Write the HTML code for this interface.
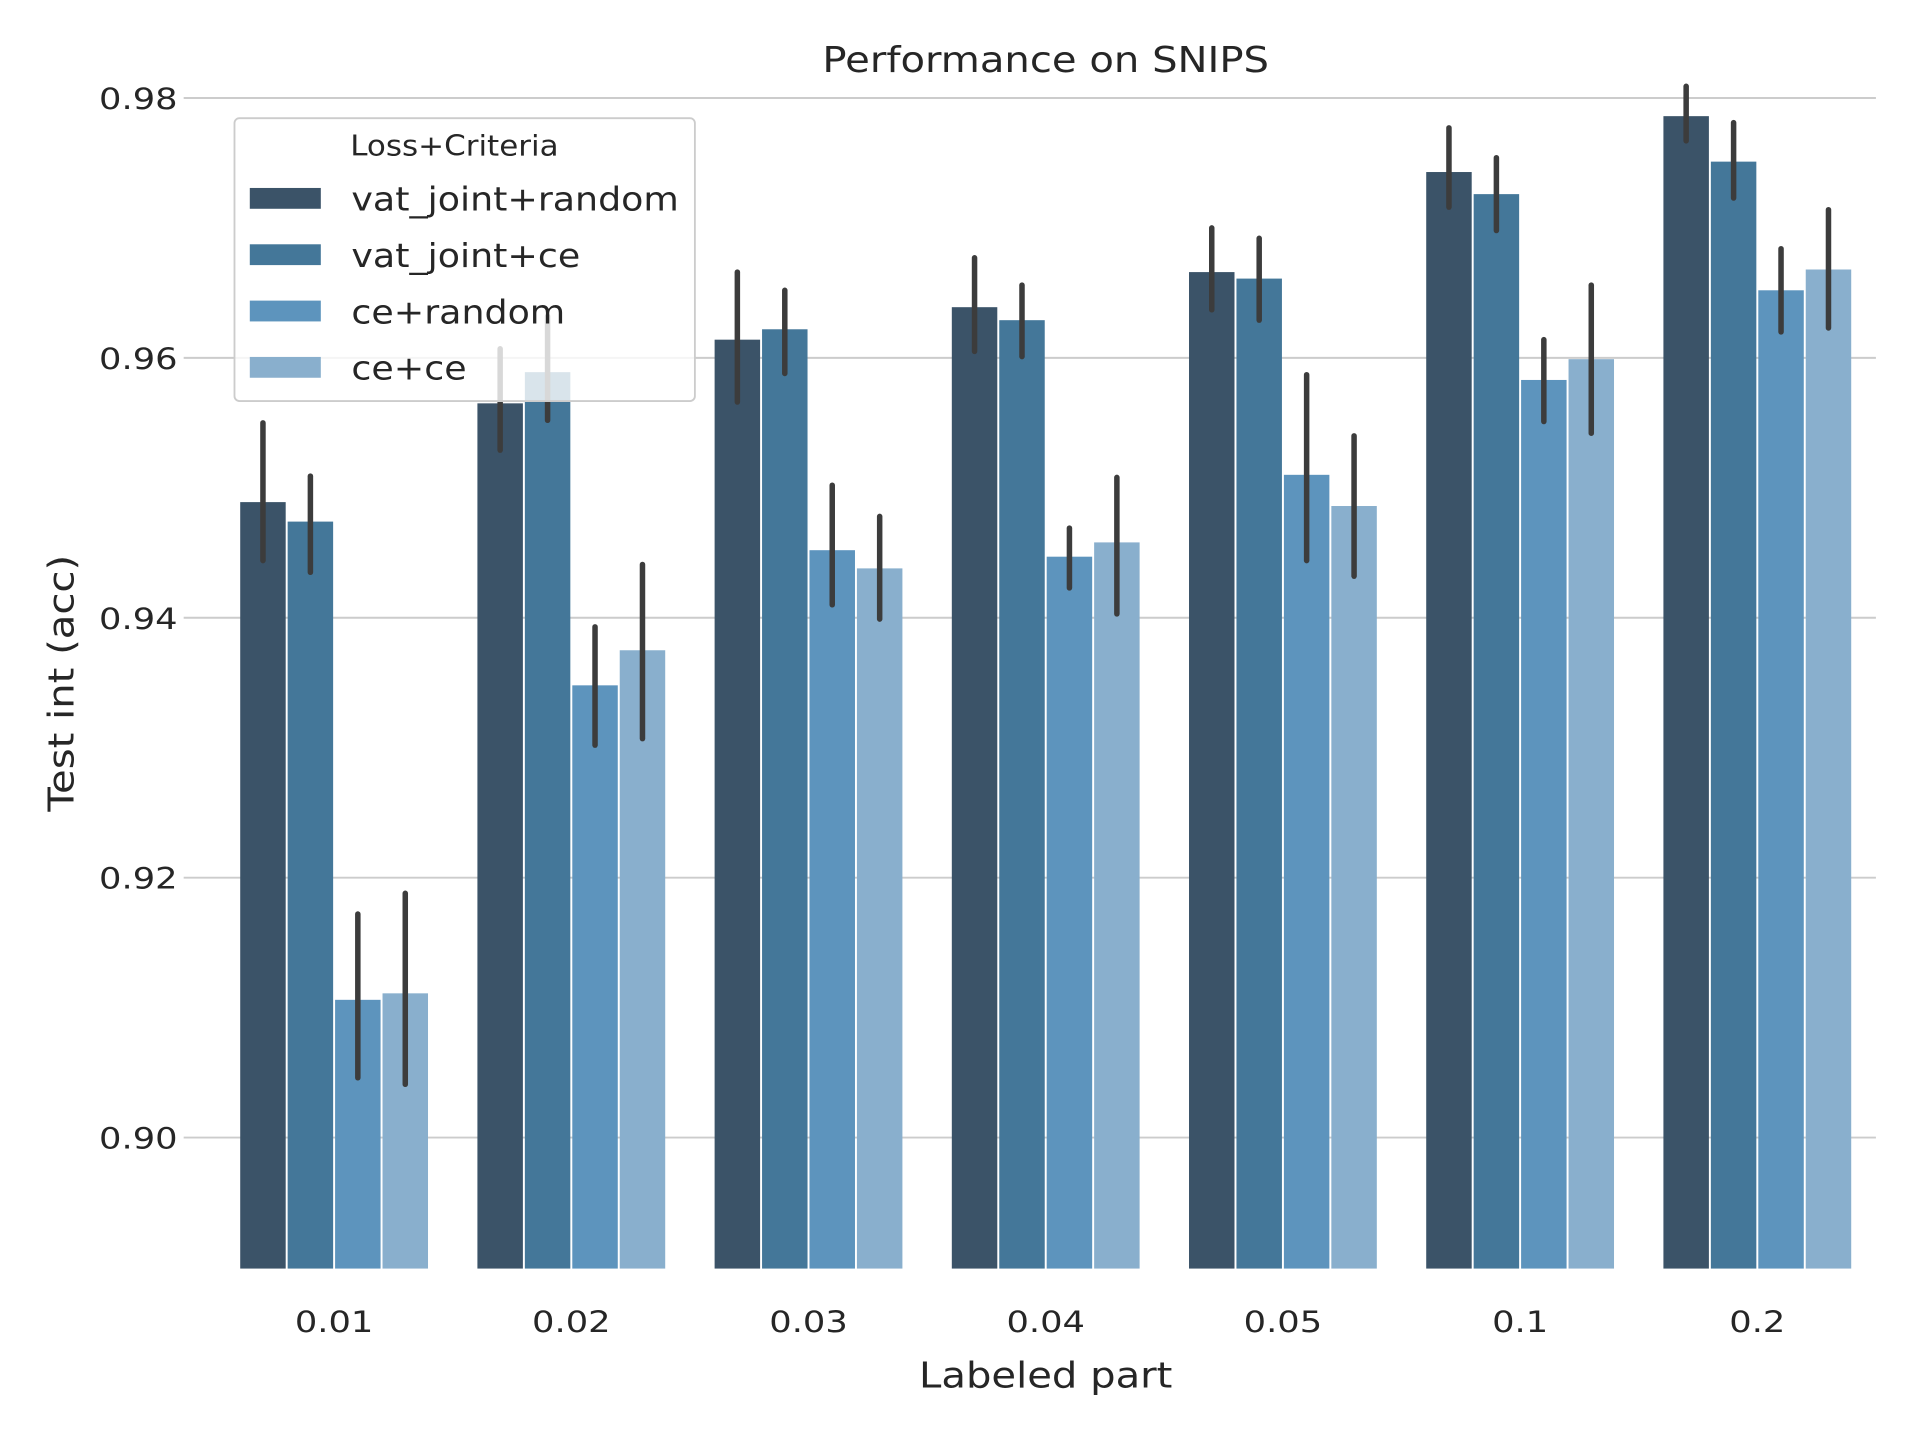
<!DOCTYPE html>
<html><head><meta charset="utf-8"><style>
html,body{margin:0;padding:0;background:#fff;}
svg{display:block;font-family:"DejaVu Sans","Liberation Sans",sans-serif;}
</style></head><body>
<svg id="chart" width="1920" height="1440" viewBox="0 0 1568 1176" preserveAspectRatio="none" xmlns="http://www.w3.org/2000/svg">
<g id="grid"></g>
<g id="bars"></g>
<g id="errs"></g>
<g id="yticks"></g>
<g id="xticks"></g>
<text id="ttl" x="854" y="59" text-anchor="middle" font-size="29" fill="#262626">Performance on SNIPS</text>
<text id="xlab" x="854" y="1133" text-anchor="middle" font-size="29" fill="#262626">Labeled part</text>
<text id="ylab" x="0" y="0" transform="translate(60,558) rotate(-90)" text-anchor="middle" font-size="29" fill="#262626">Test int (acc)</text>
<g id="legend"></g>
</svg>
<script>
const categories = ["0.01","0.02","0.03","0.04","0.05","0.1","0.2"];
const seriesNames = ["vat_joint+random","vat_joint+ce","ce+random","ce+ce"];
const vatJointRandom = [0.9489,0.9565,0.9614,0.9639,0.9666,0.9743,0.9786];
const vatJointCe     = [0.9474,0.9589,0.9622,0.9629,0.9661,0.9726,0.9751];
const ceRandom       = [0.9106,0.9348,0.9452,0.9447,0.9510,0.9583,0.9652];
const ceCe           = [0.9111,0.9375,0.9438,0.9458,0.9486,0.9599,0.9668];
const errLowVR  = [0.9444,0.9529,0.9566,0.9605,0.9637,0.9716,0.9767];
const errHighVR = [0.9550,0.9607,0.9666,0.9677,0.9700,0.9777,0.9809];
const errLowVC  = [0.9435,0.9552,0.9588,0.9601,0.9629,0.9698,0.9723];
const errHighVC = [0.9509,0.9632,0.9652,0.9656,0.9692,0.9754,0.9781];
const errLowCR  = [0.9046,0.9302,0.9410,0.9423,0.9444,0.9551,0.9620];
const errHighCR = [0.9172,0.9393,0.9502,0.9469,0.9587,0.9614,0.9684];
const errLowCC  = [0.9041,0.9307,0.9399,0.9403,0.9432,0.9542,0.9623];
const errHighCC = [0.9188,0.9441,0.9478,0.9508,0.9540,0.9656,0.9714];
const yTickValues = [0.90,0.92,0.94,0.96,0.98];
const yTickLabels = ["0.90","0.92","0.94","0.96","0.98"];

const colors = ["#3b5368","#447799","#5d94bd","#89afcd"];
const series = [vatJointRandom,vatJointCe,ceRandom,ceCe];
const lows = [errLowVR,errLowVC,errLowCR,errLowCC];
const highs = [errHighVR,errHighVC,errHighCR,errHighCC];
const yMin = 0.88992, yMax = 0.98, pyTop = 80, pyBot = 1036;
function yScale(v){ return pyBot - (v - yMin) / (yMax - yMin) * (pyBot - pyTop); }
const axL = 176, axR = 1532, step = (axR - axL) / categories.length;
function xScale(i){ return axL + step * (i + 0.5); }
const barW = step * 0.8 / 4;
const NS = "http://www.w3.org/2000/svg";
function mk(tag, attrs, parent){ const e = document.createElementNS(NS, tag); for (const k in attrs) e.setAttribute(k, attrs[k]); parent.appendChild(e); return e; }
function stretch(el, f){ const w = el.getComputedTextLength(); el.setAttribute('textLength', w * f); el.setAttribute('lengthAdjust', 'spacingAndGlyphs'); }

const grid = document.getElementById('grid'), yt = document.getElementById('yticks');
yTickValues.forEach((v, i) => {
  const y = yScale(v);
  const l = mk('line', {x1: 150, x2: axR, y1: y, y2: y, stroke: '#cccccc', 'stroke-width': 1.6}, grid);
  
  
  const t = mk('text', {x: 145, y: y + 9, 'text-anchor': 'end', 'font-size': 24, fill: '#262626'}, yt);
  t.textContent = yTickLabels[i];
  
  
  stretch(t, 1.2);
});
const bars = document.getElementById('bars'), errs = document.getElementById('errs'), xt = document.getElementById('xticks');
categories.forEach((c, i) => {
  const cx = xScale(i);
  series.forEach((s, j) => {
    const x = cx - 2 * barW + j * barW;
    const y = yScale(s[i]);
    const r = mk('rect', {x: x + 0.8, y: y, width: barW - 1.6, height: pyBot - y, fill: colors[j]}, bars);
    
    
    const e = mk('line', {x1: x + barW / 2, x2: x + barW / 2, y1: yScale(lows[j][i]), y2: yScale(highs[j][i]), stroke: '#3c3c3c', 'stroke-width': 4.5, 'stroke-linecap': 'round'}, errs);
    
    
  });
  const t = mk('text', {x: cx, y: 1088, 'text-anchor': 'middle', 'font-size': 24, fill: '#262626'}, xt);
  t.textContent = c;
  
  
  stretch(t, 1.2);
});
stretch(document.getElementById('ttl'), 1.13);
stretch(document.getElementById('xlab'), 1.13);
stretch(document.getElementById('ylab'), 1.13);
const lg = document.getElementById('legend');
const box = mk('rect', {x: 191.5, y: 96.5, width: 376, height: 231, rx: 4, fill: 'rgba(255,255,255,0.8)', stroke: '#cccccc', 'stroke-width': 1.5}, lg);


const lt = mk('text', {x: 286, y: 127, 'font-size': 23, fill: '#262626'}, lg);
lt.textContent = 'Loss+Criteria';


stretch(lt, 1.1);
seriesNames.forEach((n, j) => {
  const y = 162 + j * 46;
  const p = mk('rect', {x: 204, y: y - 8.5, width: 58, height: 17, fill: colors[j]}, lg);
  
  
  const t = mk('text', {x: 287, y: y + 10, 'font-size': 27, fill: '#262626'}, lg);
  t.textContent = n;
  
  
  stretch(t, 1.1);
});
</script>
</body></html>
